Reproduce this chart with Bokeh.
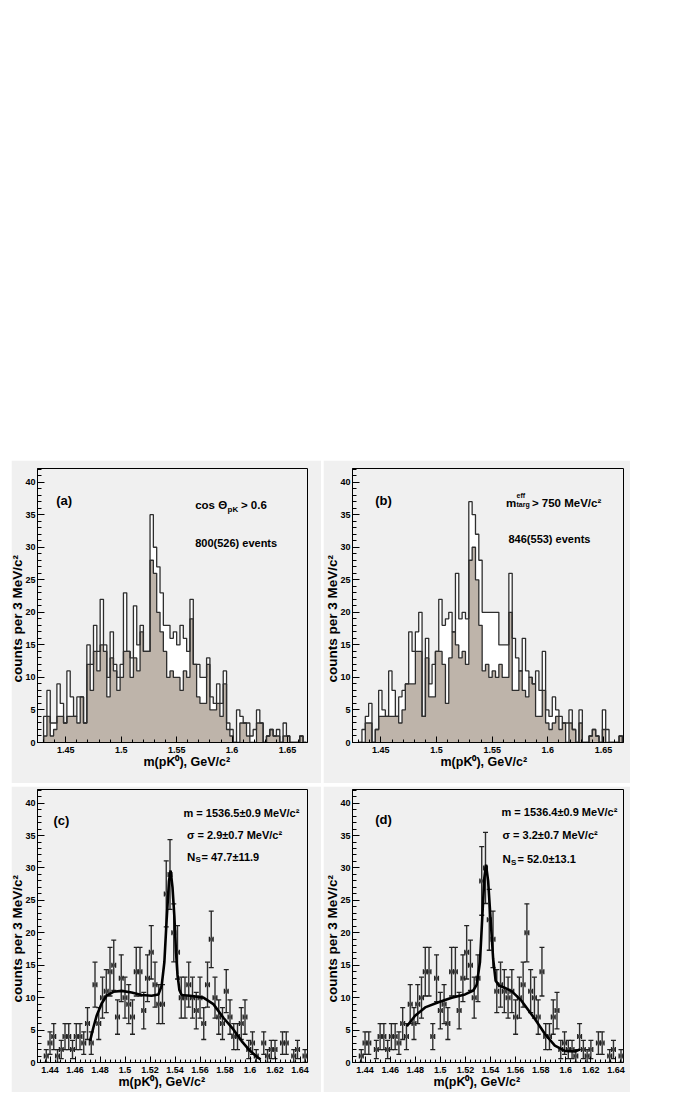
import numpy as np
from bokeh.plotting import figure
from bokeh.models import Range1d, FixedTicker, Label, Title, Spacer, CustomJSTickFormatter
from bokeh.layouts import row, column
from bokeh.embed import file_html
from bokeh.resources import INLINE

# ---------------- data ----------------
HIST_START = 1.430   # lower edge of first bin (GeV/c^2)
HIST_BIN = 0.003     # 3 MeV/c^2 bins

# panel (a): all events (open) and selected (filled)
a_all = [4, 8, 3, 3, 9, 6, 3, 11, 7, 4,
         7, 7, 3, 15, 12, 18, 14, 22, 15, 10,
         17, 12, 10, 12, 23, 14, 13, 21, 15, 18,
         14, 14, 35, 30, 27, 23, 18, 18, 16, 17,
         15, 18, 16, 14, 22, 12, 12, 10, 10, 13,
         7, 6, 9, 6, 11, 3, 2, 0, 5, 4,
         3, 3, 1, 2, 5, 3, 0, 1, 2, 1,
         2, 0, 3, 1, 0, 0, 0, 1, 0]
a_sel = [1, 4, 1, 2, 4, 4, 3, 4, 4, 4,
         3, 7, 3, 12, 8, 14, 11, 15, 14, 7,
         13, 11, 8, 10, 14, 14, 10, 13, 11, 17,
         14, 14, 28, 26, 20, 17, 14, 10, 11, 10,
         10, 8, 11, 10, 19, 12, 7, 6, 6, 12,
         5, 5, 6, 4, 9, 2, 1, 0, 0, 3,
         3, 1, 0, 0, 3, 3, 0, 1, 2, 1,
         1, 0, 1, 1, 0, 0, 0, 1, 0]
# panel (b)
b_all = [0, 2, 4, 6, 0, 2, 8, 5, 4, 11,
         8, 4, 7, 8, 9, 17, 14, 17, 20, 4,
         16, 9, 12, 14, 22, 18, 19, 20, 17, 26,
         19, 20, 19, 37, 35, 32, 28, 20, 20, 20,
         20, 20, 15, 15, 15, 26, 16, 13, 11, 16,
         11, 10, 9, 11, 8, 14, 5, 4, 7, 5,
         4, 3, 3, 5, 2, 0, 5, 0, 0, 1,
         2, 1, 0, 5, 2, 0, 0, 0, 1]
b_sel = [0, 0, 3, 3, 0, 2, 4, 4, 4, 4,
         4, 4, 3, 5, 9, 9, 9, 14, 14, 4,
         13, 7, 7, 14, 14, 12, 6, 13, 17, 15,
         13, 14, 12, 28, 30, 25, 18, 11, 12, 10,
         11, 10, 12, 10, 10, 20, 8, 8, 11, 8,
         7, 10, 9, 4, 4, 8, 3, 2, 3, 4,
         2, 3, 0, 3, 2, 0, 3, 0, 0, 1,
         2, 1, 0, 2, 0, 0, 0, 0, 1]

# panels (c),(d): counts per bin, bin centres start at PT_START
PT_START = 1.434
PT_BIN = 0.003
c_counts = [0, 1, 3, 4, 1, 2, 4, 4, 2, 4,
            4, 3, 6, 3, 12, 6, 10, 11, 14, 15,
            7, 13, 10, 9, 7, 14, 14, 8, 13, 17,
            12, 9, 9, 26, 29, 20, 17, 10, 10, 12,
            10, 8, 10, 6, 12, 19, 10, 7, 6, 11,
            7, 4, 4, 6, 7, 2, 3, 1, 0, 3,
            1, 2, 2, 0, 3, 3, 0, 1, 2, 0,
            1]
d_counts = [0, 1, 3, 3, 0, 2, 4, 4, 2, 4,
            4, 3, 6, 4, 9, 6, 9, 10, 14, 14,
            4, 13, 8, 9, 6, 14, 14, 8, 13, 17,
            15, 10, 13, 28, 30, 22, 19, 11, 12, 11,
            10, 11, 7, 10, 12, 20, 11, 10, 7, 14,
            4, 4, 7, 8, 2, 3, 2, 2, 1, 4,
            2, 1, 2, 0, 3, 3, 0, 1, 2, 0,
            1]

# fitted curves
c_fit_x = [1.4720, 1.4747, 1.4773, 1.4813, 1.4853, 1.4907, 1.4973, 1.5053, 1.5133,
           1.5213, 1.5267, 1.5293, 1.5315, 1.5333, 1.5352, 1.5365, 1.5380, 1.5395,
           1.5408, 1.5420, 1.5435, 1.5453, 1.5520, 1.5627, 1.5707, 1.5787, 1.5867,
           1.5933, 1.6000, 1.6067, 1.6085]
c_fit_y = [3.3, 5.4, 7.2, 9.1, 10.3, 10.9, 11.05, 10.8, 10.4,
           10.3, 10.5, 11.8, 15.5, 22.0, 28.0, 29.6, 27.0, 22.5,
           17.0, 13.5, 11.2, 10.4, 10.3, 10.0, 9.0, 6.9, 5.1,
           3.3, 1.8, 0.7, 0.5]
d_fit_x = [1.4733, 1.4799, 1.4879, 1.4985, 1.5091, 1.5197, 1.5263, 1.5290, 1.5316,
           1.5336, 1.5351, 1.5364, 1.5381, 1.5401, 1.5421, 1.5441, 1.5466, 1.5516,
           1.5568, 1.5648, 1.5754, 1.5834, 1.5913, 1.5993, 1.6072, 1.6112]
d_fit_y = [5.6, 7.2, 8.5, 9.3, 10.0, 10.5, 11.1, 12.0, 15.5,
           23.0, 28.5, 30.5, 28.0, 22.0, 16.0, 12.6, 11.9, 11.5,
           11.0, 9.5, 6.7, 4.4, 2.6, 1.8, 1.7, 2.0]

x_ticks_ab = [1.45, 1.50, 1.55, 1.60, 1.65]
x_labels_ab = ["1.45", "1.5", "1.55", "1.6", "1.65"]
x_ticks_cd = [1.44, 1.46, 1.48, 1.50, 1.52, 1.54, 1.56, 1.58, 1.60, 1.62, 1.64]
x_labels_cd = ["1.44", "1.46", "1.48", "1.5", "1.52", "1.54", "1.56", "1.58", "1.6", "1.62", "1.64"]
y_ticks = [0, 5, 10, 15, 20, 25, 30, 35, 40]
y_labels = ["0", "5", "10", "15", "20", "25", "30", "35", "40"]

x_title = "m(pK\u2070), GeV/c\u00b2"
y_title = "counts per 3 MeV/c\u00b2"

# ---------------- style ----------------
FONT = "Liberation Sans"
PAD = "#f0f0f0"
HIST_FILL = "#beb4aa"
EDGE = "#2e2e2e"
Y_TOP = 42.1
XR_AB = (1.4245, 1.668)
XR_CD = (1.4300, 1.646)


def fmt(ticks, labels):
    return CustomJSTickFormatter(args=dict(t=ticks, l=labels), code="""
        for (let i = 0; i < t.length; i++) { if (Math.abs(t[i] - tick) < 1e-9) return l[i]; }
        return '';""")


def make_fig(w, h, bl, br, bt, bb, xr, xt, xl, xminor, xt_left):
    p = figure(width=w, height=h, x_range=Range1d(*xr), y_range=Range1d(0, Y_TOP),
               output_backend="svg", toolbar_location=None,
               min_border_left=bl, min_border_right=br,
               min_border_top=bt, min_border_bottom=bb)
    p.background_fill_color = PAD
    p.border_fill_color = PAD
    p.outline_line_color = "black"
    p.outline_line_width = 1
    p.grid.visible = False
    p.xaxis.ticker = FixedTicker(ticks=xt, minor_ticks=xminor)
    p.xaxis.formatter = fmt(xt, xl)
    p.yaxis.ticker = FixedTicker(ticks=y_ticks, minor_ticks=list(range(0, 43)))
    p.yaxis.formatter = fmt(y_ticks, y_labels)
    for ax, mj, mn, so in ((p.xaxis[0], 6, 3, 4), (p.yaxis[0], 7, 4, 2)):
        ax.axis_line_color = "black"
        ax.major_tick_line_color = "black"
        ax.minor_tick_line_color = "black"
        ax.major_tick_in = mj
        ax.major_tick_out = 0
        ax.minor_tick_in = mn
        ax.minor_tick_out = 0
        ax.major_label_standoff = so
        ax.major_label_text_font = FONT
        ax.major_label_text_font_style = "bold"
        ax.major_label_text_font_size = "9px"
        ax.major_label_text_color = "black"
    # axis titles: x title starts at xt_left px from the frame's left edge,
    # y title starts 60 px above the frame's bottom edge (as in the reference)
    p.add_layout(Title(text=x_title, align="left", offset=xt_left, standoff=-2,
                       vertical_align="top",
                       text_font=FONT, text_font_style="bold", text_font_size="12.5px",
                       text_color="black"), "below")
    p.add_layout(Title(text=y_title, align="left", offset=60, standoff=-6,
                       vertical_align="middle",
                       text_font=FONT, text_font_style="bold", text_font_size="13.5px",
                       text_color="black"), "left")
    return p


def txt(p, x, y, s, size, align="left", baseline="alphabetic"):
    p.add_layout(Label(x=x, y=y, x_units="screen", y_units="screen", text=s,
                       text_font=FONT, text_font_style="bold", text_font_size=size,
                       text_align=align, text_baseline=baseline, text_color="black"))


def add_hist(p, all_counts, sel_counts):
    edges = HIST_START + HIST_BIN * np.arange(len(all_counts) + 1)
    px = np.repeat(edges, 2)
    for counts, fill in ((all_counts, "white"), (sel_counts, HIST_FILL)):
        py = np.concatenate([[0], np.repeat(np.asarray(counts, float), 2), [0]])
        p.patch(px, py, fill_color=fill, line_color=None)
    for counts in (all_counts, sel_counts):
        py = np.concatenate([[0], np.repeat(np.asarray(counts, float), 2), [0]])
        p.line(px, py, line_color=EDGE, line_width=1.3)


def add_points(p, counts, fx, fy):
    k = np.arange(len(counts))
    n = np.asarray(counts, float)
    m = n > 0
    x = (PT_START + PT_BIN * k)[m]
    y = n[m]
    e = np.sqrt(y)
    h = PT_BIN / 2
    p.segment(x0=x, y0=y - e, x1=x, y1=y + e, line_color="#2f2f2f", line_width=1.4)
    p.segment(x0=x - h, y0=y, x1=x + h, y1=y, line_color="#4d4d4d", line_width=3)
    p.scatter(np.concatenate([x, x]), np.concatenate([y - e, y + e]), marker="dash",
              size=5, line_color="#222222", line_width=1.3)
    p.scatter(np.concatenate([x - h, x + h]), np.concatenate([y, y]), marker="dash",
              angle=np.pi / 2, size=5, line_color="#222222", line_width=1.3)
    p.line(fx, fy, line_color="black", line_width=2.6)


minor_ab = list(np.round(np.arange(1.42, 1.6701, 0.01), 3))
minor_cd = list(np.round(np.arange(1.428, 1.6481, 0.004), 3))

# ---- panel (a)
pa = make_fig(310, 323, 26, 14, 8, 41, XR_AB, x_ticks_ab, x_labels_ab, minor_ab, 106)
add_hist(pa, a_all, a_sel)
txt(pa, 18.7, 242.5, "(a)", "13px", baseline="middle")
txt(pa, 157.7, 237.4, "cos \u0398", "11.5px")
txt(pa, 190.0, 233.4, "pK", "8px")
txt(pa, 203.4, 237.4, "> 0.6", "11.5px")
txt(pa, 157.7, 199.4, "800(526) events", "11px")

# ---- panel (b)
pb = make_fig(307, 323, 29, 7, 8, 41, XR_AB, x_ticks_ab, x_labels_ab, minor_ab, 88)
add_hist(pb, b_all, b_sel)
txt(pb, 22.7, 242.5, "(b)", "13px", baseline="middle")
txt(pb, 153.4, 240.0, "m", "11.5px")
txt(pb, 164.0, 247.5, "eff", "7px")
txt(pb, 164.0, 237.7, "targ", "7px")
txt(pb, 179.4, 240.0, "> 750 MeV/c\u00b2", "11.5px")
txt(pb, 156.0, 203.4, "846(553) events", "11px")

# ---- panel (c)
pc = make_fig(310, 306, 26, 14, 3, 30, XR_CD, x_ticks_cd, x_labels_cd, minor_cd, 81)
add_points(pc, c_counts, c_fit_x, c_fit_y)
txt(pc, 16.0, 242.5, "(c)", "13px", baseline="middle")
txt(pc, 146.0, 249.4, "m = 1536.5\u00b10.9 MeV/c\u00b2", "11px")
txt(pc, 149.4, 227.4, "\u03c3 = 2.9\u00b10.7 MeV/c\u00b2", "11px")
txt(pc, 149.4, 205.7, "N", "11.5px")
txt(pc, 158.0, 202.7, "S", "8px")
txt(pc, 164.0, 205.7, "= 47.7\u00b111.9", "11px")

# ---- panel (d)
pd_ = make_fig(307, 306, 29, 7, 3, 30, XR_CD, x_ticks_cd, x_labels_cd, minor_cd, 81)
add_points(pd_, d_counts, d_fit_x, d_fit_y)
txt(pd_, 22.7, 243.4, "(d)", "13px", baseline="middle")
txt(pd_, 149.0, 250.7, "m = 1536.4\u00b10.9 MeV/c\u00b2", "11px")
txt(pd_, 150.0, 227.4, "\u03c3 = 3.2\u00b10.7 MeV/c\u00b2", "11px")
txt(pd_, 150.0, 203.4, "N", "11.5px")
txt(pd_, 158.6, 200.0, "S", "8px")
txt(pd_, 165.0, 203.4, "= 52.0\u00b113.1", "11px")

layout = column(
    Spacer(width=10, height=460),
    row(Spacer(width=11, height=1), pa, Spacer(width=2, height=1), pb),
    Spacer(width=10, height=3),
    row(Spacer(width=11, height=1), pc, Spacer(width=2, height=1), pd_),
)

open("out.html", "w").write(file_html(layout, INLINE, title="pK0 mass spectra"))
